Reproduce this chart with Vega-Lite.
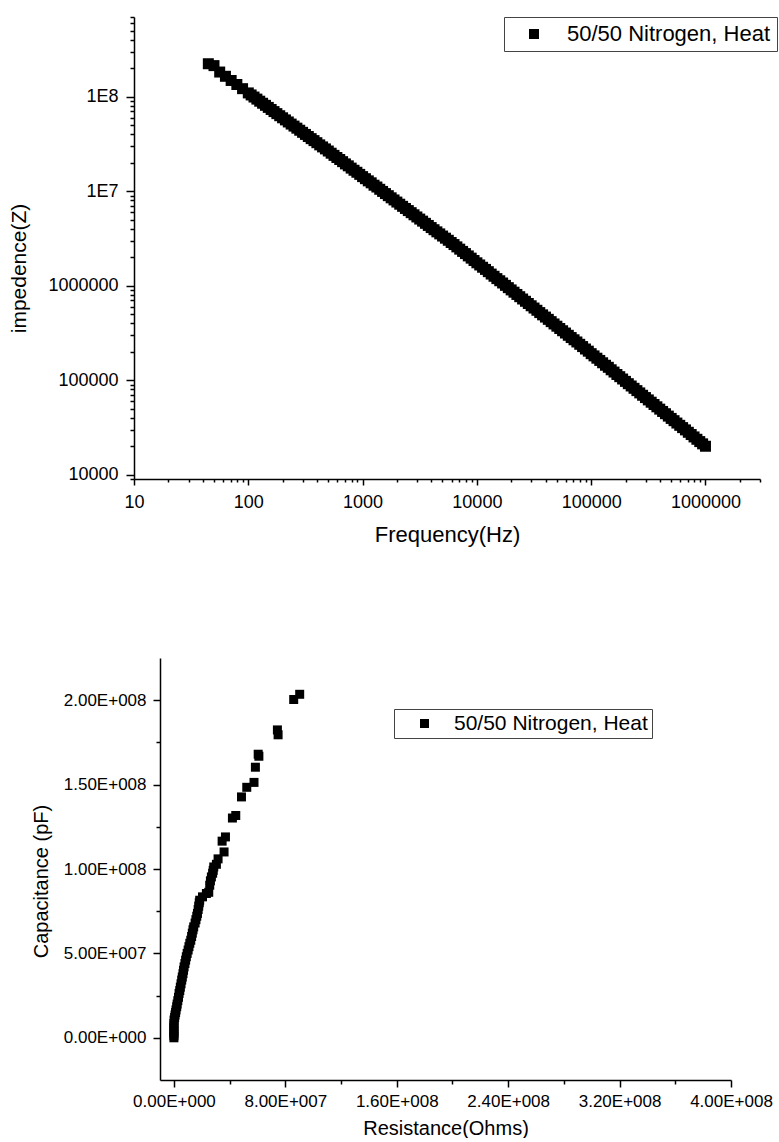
{
  "$schema": "https://vega.github.io/schema/vega-lite/v6.json",
  "background": "white",
  "padding": {"left": 8, "top": 8, "right": 0, "bottom": 0},
  "config": {
    "view": {"stroke": null},
    "font": "Liberation Sans",
    "axis": {
      "domainColor": "black", "domainWidth": 1.5, "tickColor": "black", "tickWidth": 1.5,
      "labelColor": "black", "titleColor": "black", "labelFont": "Liberation Sans", "titleFont": "Liberation Sans",
      "labelFontSize": 17, "titleFontWeight": "normal", "grid": false, "labelFlush": false, "labelOverlap": false
    },
    "legend": {"labelFont": "Liberation Sans", "labelColor": "black", "labelLimit": 0}
  },
  "datasets": {
    "imp": [{"f":44.7,"z":2.24e8},{"f":50.1,"z":2.14e8},{"f":56.2,"z":1.83e8},{"f":63.1,"z":1.65e8},{"f":70.8,"z":1.49e8},{"f":79.4,"z":1.35e8},{"f":89.1,"z":1.22e8},{"f":100,"z":1.10e8},{"f":112.2,"z":9.95e7},{"f":125.9,"z":8.99e7},{"f":141.3,"z":8.13e7},{"f":158.5,"z":7.35e7},{"f":177.8,"z":6.64e7},{"f":199.5,"z":6.00e7},{"f":223.9,"z":5.42e7},{"f":251.2,"z":4.90e7},{"f":281.8,"z":4.43e7},{"f":316.2,"z":4.00e7},{"f":354.8,"z":3.61e7},{"f":398.1,"z":3.27e7},{"f":446.7,"z":2.95e7},{"f":501.2,"z":2.67e7},{"f":562.3,"z":2.40e7},{"f":631,"z":2.17e7},{"f":707.9,"z":1.95e7},{"f":794.3,"z":1.76e7},{"f":891.3,"z":1.59e7},{"f":1000,"z":1.43e7},{"f":1122,"z":1.29e7},{"f":1259,"z":1.16e7},{"f":1413,"z":1.05e7},{"f":1585,"z":9.46e6},{"f":1778,"z":8.53e6},{"f":1995,"z":7.69e6},{"f":2239,"z":6.93e6},{"f":2512,"z":6.25e6},{"f":2818,"z":5.64e6},{"f":3162,"z":5.08e6},{"f":3548,"z":4.58e6},{"f":3981,"z":4.13e6},{"f":4467,"z":3.72e6},{"f":5012,"z":3.36e6},{"f":5623,"z":3.03e6},{"f":6310,"z":2.73e6},{"f":7079,"z":2.44e6},{"f":7943,"z":2.19e6},{"f":8913,"z":1.96e6},{"f":10000,"z":1.75e6},{"f":11220,"z":1.57e6},{"f":12590,"z":1.41e6},{"f":14130,"z":1.26e6},{"f":15850,"z":1.13e6},{"f":17780,"z":1.01e6},{"f":19950,"z":9.04e5},{"f":22390,"z":8.09e5},{"f":25120,"z":7.24e5},{"f":28180,"z":6.49e5},{"f":31620,"z":5.81e5},{"f":35480,"z":5.20e5},{"f":39810,"z":4.66e5},{"f":44670,"z":4.17e5},{"f":50120,"z":3.73e5},{"f":56230,"z":3.34e5},{"f":63100,"z":2.99e5},{"f":70790,"z":2.68e5},{"f":79430,"z":2.40e5},{"f":89130,"z":2.14e5},{"f":100000,"z":1.91e5},{"f":112200,"z":1.71e5},{"f":125900,"z":1.53e5},{"f":141300,"z":1.37e5},{"f":158500,"z":1.22e5},{"f":177800,"z":1.09e5},{"f":199500,"z":9.72e4},{"f":223900,"z":8.69e4},{"f":251200,"z":7.76e4},{"f":281800,"z":6.93e4},{"f":316200,"z":6.19e4},{"f":354800,"z":5.53e4},{"f":398100,"z":4.94e4},{"f":446700,"z":4.42e4},{"f":501200,"z":3.94e4},{"f":562300,"z":3.52e4},{"f":631000,"z":3.15e4},{"f":707900,"z":2.81e4},{"f":794300,"z":2.51e4},{"f":891300,"z":2.24e4},{"f":1000000,"z":2.00e4},
      {"f":105.9,"z":1.047e8},{"f":118.9,"z":9.46e7},{"f":133.4,"z":8.55e7},{"f":149.6,"z":7.73e7},{"f":167.9,"z":6.98e7},{"f":188.4,"z":6.31e7},{"f":211.3,"z":5.70e7},{"f":237.1,"z":5.15e7},{"f":266.1,"z":4.66e7},{"f":298.5,"z":4.21e7},{"f":335.0,"z":3.80e7},{"f":375.8,"z":3.44e7},{"f":421.7,"z":3.10e7},{"f":473.2,"z":2.81e7},{"f":530.9,"z":2.53e7},{"f":595.7,"z":2.28e7},{"f":668.3,"z":2.06e7},{"f":749.9,"z":1.86e7},{"f":841.4,"z":1.67e7},{"f":944.1,"z":1.51e7},{"f":1059,"z":1.36e7},{"f":1189,"z":1.23e7},{"f":1334,"z":1.11e7},{"f":1496,"z":9.97e6},{"f":1679,"z":8.99e6},{"f":1884,"z":8.10e6},{"f":2113,"z":7.30e6},{"f":2371,"z":6.58e6},{"f":2661,"z":5.94e6},{"f":2985,"z":5.35e6},{"f":3350,"z":4.83e6},{"f":3758,"z":4.35e6},{"f":4217,"z":3.92e6},{"f":4732,"z":3.54e6},{"f":5309,"z":3.19e6},{"f":5957,"z":2.87e6},{"f":6683,"z":2.58e6},{"f":7499,"z":2.31e6},{"f":8414,"z":2.07e6},{"f":9441,"z":1.85e6},{"f":10590,"z":1.66e6},{"f":11890,"z":1.49e6},{"f":13340,"z":1.33e6},{"f":14960,"z":1.19e6},{"f":16790,"z":1.07e6},{"f":18840,"z":9.55e5},{"f":21130,"z":8.55e5},{"f":23710,"z":7.66e5},{"f":26610,"z":6.85e5},{"f":29850,"z":6.14e5},{"f":33500,"z":5.50e5},{"f":37580,"z":4.92e5},{"f":42170,"z":4.41e5},{"f":47320,"z":3.94e5},{"f":53090,"z":3.53e5},{"f":59570,"z":3.16e5},{"f":66830,"z":2.83e5},{"f":74990,"z":2.54e5},{"f":84140,"z":2.27e5},{"f":94410,"z":2.03e5},{"f":105900,"z":1.81e5},{"f":118900,"z":1.62e5},{"f":133400,"z":1.44e5},{"f":149600,"z":1.29e5},{"f":167900,"z":1.15e5},{"f":188400,"z":1.03e5},{"f":211300,"z":9.19e4},{"f":237100,"z":8.21e4},{"f":266100,"z":7.34e4},{"f":298500,"z":6.55e4},{"f":335000,"z":5.85e4},{"f":375800,"z":5.23e4},{"f":421700,"z":4.67e4},{"f":473200,"z":4.17e4},{"f":530900,"z":3.73e4},{"f":595700,"z":3.33e4},{"f":668300,"z":2.98e4},{"f":749900,"z":2.66e4},{"f":841400,"z":2.37e4},{"f":944100,"z":2.12e4}],
    "rc": [{"r":0,"c":0},{"r":0,"c":1.2e6},{"r":0,"c":2.5e6},{"r":0,"c":4.0e6},{"r":0,"c":5.5e6},{"r":0,"c":7.0e6},{"r":0,"c":8.5e6},{"r":1e5,"c":1.05e7},{"r":5e5,"c":1.2e7},{"r":8e5,"c":1.35e7},{"r":1.2e6,"c":1.5e7},{"r":1.5e6,"c":1.65e7},{"r":2.0e6,"c":1.84e7},{"r":2.3e6,"c":2.0e7},{"r":2.8e6,"c":2.2e7},{"r":3.3e6,"c":2.4e7},{"r":3.7e6,"c":2.63e7},{"r":4.2e6,"c":2.8e7},{"r":4.6e6,"c":3.0e7},{"r":5.1e6,"c":3.2e7},{"r":5.6e6,"c":3.42e7},{"r":6.0e6,"c":3.6e7},{"r":6.5e6,"c":3.8e7},{"r":6.9e6,"c":4.0e7},{"r":7.3e6,"c":4.2e7},{"r":7.9e6,"c":4.4e7},{"r":8.4e6,"c":4.6e7},{"r":8.9e6,"c":4.8e7},{"r":9.5e6,"c":5.0e7},{"r":1.02e7,"c":5.2e7},{"r":1.08e7,"c":5.4e7},{"r":1.14e7,"c":5.6e7},{"r":1.21e7,"c":5.78e7},{"r":1.27e7,"c":6.0e7},{"r":1.32e7,"c":6.2e7},{"r":1.37e7,"c":6.4e7},{"r":1.42e7,"c":6.57e7},{"r":1.52e7,"c":6.8e7},{"r":1.58e7,"c":7.0e7},{"r":1.64e7,"c":7.2e7},{"r":1.69e7,"c":7.37e7},{"r":1.74e7,"c":7.6e7},{"r":1.78e7,"c":7.8e7},{"r":1.82e7,"c":8.0e7},{"r":1.85e7,"c":8.15e7},{"r":2.05e7,"c":8.35e7},{"r":2.33e7,"c":8.55e7},{"r":2.50e7,"c":8.62e7},{"r":2.57e7,"c":9.04e7},{"r":2.62e7,"c":9.30e7},{"r":2.69e7,"c":9.53e7},{"r":2.78e7,"c":9.75e7},{"r":2.82e7,"c":9.92e7},{"r":2.86e7,"c":1.012e8},{"r":3.05e7,"c":1.028e8},{"r":3.17e7,"c":1.06e8},{"r":3.60e7,"c":1.101e8},{"r":3.46e7,"c":1.165e8},{"r":3.70e7,"c":1.19e8},{"r":4.20e7,"c":1.302e8},{"r":4.44e7,"c":1.317e8},{"r":4.85e7,"c":1.427e8},{"r":5.23e7,"c":1.484e8},{"r":5.75e7,"c":1.513e8},{"r":5.85e7,"c":1.603e8},{"r":6.05e7,"c":1.68e8},{"r":6.10e7,"c":1.668e8},{"r":7.43e7,"c":1.824e8},{"r":7.48e7,"c":1.795e8},{"r":8.60e7,"c":2.004e8},{"r":9.03e7,"c":2.035e8}]
  },
  "resolve": {"scale": {"color": "independent"}, "legend": {"color": "independent"}},
  "spacing": 113,
  "vconcat": [
    {
      "width": 626,
      "height": 462,
      "data": {"name": "imp"},
      "mark": {"type": "point", "shape": "square", "filled": true, "size": 121, "opacity": 1},
      "encoding": {
        "x": {
          "field": "f", "type": "quantitative",
          "scale": {"type": "log", "domain": [10, 3000000], "nice": false},
          "axis": {
            "title": "Frequency(Hz)", "titleFontSize": 22, "titlePadding": 13, "labelPadding": 8, "labelFontSize": 18,
            "values": [10,20,30,40,50,60,70,80,90,100,200,300,400,500,600,700,800,900,1000,2000,3000,4000,5000,6000,7000,8000,9000,10000,20000,30000,40000,50000,60000,70000,80000,90000,100000,200000,300000,400000,500000,600000,700000,800000,900000,1000000,2000000,3000000],
            "labelExpr": "indexof([10,100,1000,10000,100000,1000000], datum.value) >= 0 ? format(datum.value, 'd') : ''",
            "tickSize": {"condition": {"test": "indexof([10,100,1000,10000,100000,1000000], datum.value) >= 0", "value": 6}, "value": 3}
          }
        },
        "y": {
          "field": "z", "type": "quantitative",
          "scale": {"type": "log", "domain": [9000, 700000000], "nice": false},
          "axis": {
            "title": "impedence(Z)", "titleFontSize": 21, "titlePadding": 18, "labelPadding": 8, "titleY": 251, "labelFontSize": 18,
            "values": [9000,10000,20000,30000,40000,50000,60000,70000,80000,90000,100000,200000,300000,400000,500000,600000,700000,800000,900000,1000000,2000000,3000000,4000000,5000000,6000000,7000000,8000000,9000000,10000000,20000000,30000000,40000000,50000000,60000000,70000000,80000000,90000000,100000000,200000000,300000000,400000000,500000000,600000000,700000000],
            "labelExpr": "datum.value == 100000000 ? '1E8' : datum.value == 10000000 ? '1E7' : datum.value == 1000000 ? '1000000' : datum.value == 100000 ? '100000' : datum.value == 10000 ? '10000' : ''",
            "tickSize": {"condition": {"test": "indexof([10000,100000,1000000,10000000,100000000], datum.value) >= 0", "value": 8}, "value": 4}
          }
        },
        "color": {
          "datum": "50/50 Nitrogen, Heat", "type": "nominal",
          "scale": {"range": ["black"]},
          "legend": {
            "title": null, "orient": "none", "legendX": 370, "legendY": 0,
            "strokeColor": "#444", "padding": 6, "symbolType": "square", "symbolSize": 100,
            "symbolFillColor": "black", "symbolStrokeWidth": 0, "symbolOffset": 13, "labelOffset": 22,
            "labelFontSize": 22
          }
        }
      }
    },
    {
      "width": 597,
      "height": 422,
      "data": {"name": "rc"},
      "mark": {"type": "point", "shape": "square", "filled": true, "size": 81, "opacity": 1},
      "encoding": {
        "x": {
          "field": "r", "type": "quantitative",
          "scale": {"domain": [-10000000, 400000000], "range": [26, 597], "nice": false, "zero": false},
          "axis": {
            "title": "Resistance(Ohms)", "titleFontSize": 20, "titlePadding": 9, "labelPadding": 6,
            "values": [0,40000000,80000000,120000000,160000000,200000000,240000000,280000000,320000000,360000000,400000000],
            "labelExpr": "datum.value == 0 ? '0.00E+000' : datum.value == 80000000 ? '8.00E+007' : datum.value == 160000000 ? '1.60E+008' : datum.value == 240000000 ? '2.40E+008' : datum.value == 320000000 ? '3.20E+008' : datum.value == 400000000 ? '4.00E+008' : ''",
            "tickSize": {"condition": {"test": "datum.value % 80000000 == 0", "value": 7}, "value": 4}
          }
        },
        "y": {
          "field": "c", "type": "quantitative",
          "scale": {"domain": [-25000000, 225000000], "nice": false, "zero": false},
          "axis": {
            "title": "Capacitance (pF)", "titleFontSize": 20, "titlePadding": 12, "labelPadding": 7, "titleY": 223, "offset": -26,
            "values": [0,25000000,50000000,75000000,100000000,125000000,150000000,175000000,200000000],
            "labelExpr": "datum.value == 0 ? '0.00E+000' : datum.value == 50000000 ? '5.00E+007' : datum.value == 100000000 ? '1.00E+008' : datum.value == 150000000 ? '1.50E+008' : datum.value == 200000000 ? '2.00E+008' : ''",
            "tickSize": {"condition": {"test": "datum.value % 50000000 == 0", "value": 7}, "value": 4}
          }
        },
        "color": {
          "datum": "50/50 Nitrogen, Heat", "type": "nominal",
          "scale": {"range": ["black"]},
          "legend": {
            "title": null, "orient": "none", "legendX": 260, "legendY": 51,
            "strokeColor": "#444", "padding": 4, "symbolType": "square", "symbolSize": 81,
            "symbolFillColor": "black", "symbolStrokeWidth": 0, "symbolOffset": 16, "labelOffset": 19,
            "labelFontSize": 21
          }
        }
      }
    }
  ]
}
